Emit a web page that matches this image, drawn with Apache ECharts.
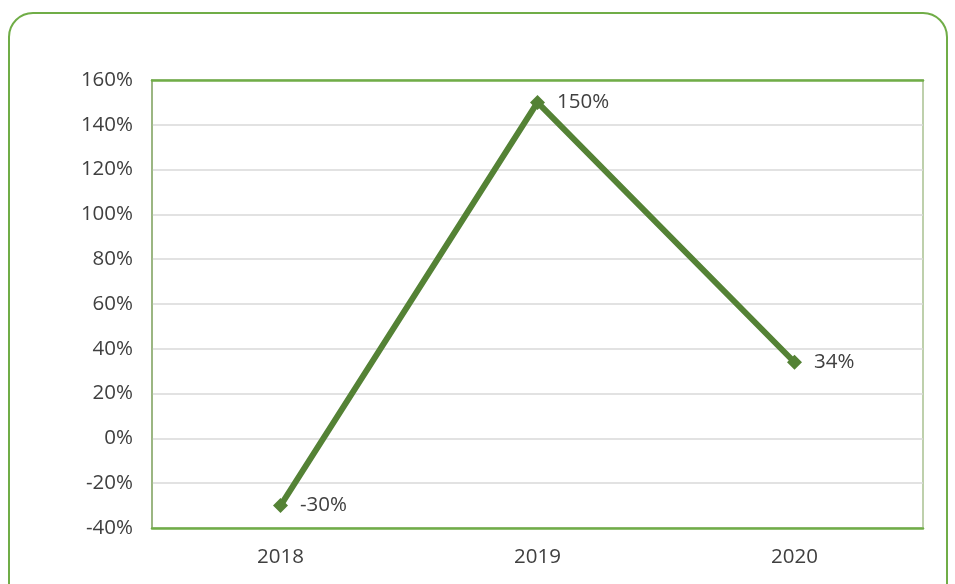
<!DOCTYPE html>
<html>
<head>
<meta charset="utf-8">
<script src="https://cdn.jsdelivr.net/npm/echarts@6/dist/echarts.min.js"></script>
<style>
html,body{margin:0;padding:0;background:#fff;}
#c{width:955px;height:584px;}
</style>
</head>
<body>
<div id="c"></div>
<script>
var categories = ['2018', '2019', '2020'];
var values = [-30, 150, 34];
var yMin = -40, yMax = 160, yStep = 20;

var fontFamily = '"Open Sans", sans-serif';
var textColor = '#404040';
var chart = echarts.init(document.getElementById('c'), null, {renderer: 'canvas'});
chart.setOption({
  backgroundColor: '#ffffff',
  animation: false,
  graphic: [{
    type: 'rect',
    shape: {x: 9, y: 13, width: 938, height: 600, r: 24},
    style: {fill: 'none', stroke: '#70ad47', lineWidth: 2},
    z: 0
  }],
  grid: {
    left: 152, right: 32, top: 80, bottom: 56,
    show: true, borderColor: '#a9c191', borderWidth: 1.5, backgroundColor: 'transparent'
  },
  xAxis: [{
    type: 'category',
    data: categories,
    boundaryGap: true,
    position: 'bottom',
    axisLine: {show: true, onZero: false, lineStyle: {color: '#70ad47', width: 2.5}},
    axisTick: {show: false},
    axisLabel: {color: textColor, fontFamily: fontFamily, fontSize: 20.5, margin: 19}
  }, {
    type: 'category',
    data: categories,
    position: 'top',
    axisLine: {show: true, onZero: false, lineStyle: {color: '#70ad47', width: 2.5}},
    axisTick: {show: false},
    axisLabel: {show: false}
  }],
  yAxis: {
    type: 'value',
    min: yMin, max: yMax, interval: yStep,
    axisLine: {show: true, lineStyle: {color: '#8fae74', width: 1.5}},
    axisTick: {show: false},
    splitLine: {show: true, lineStyle: {color: '#d9d9d9', width: 1.5}},
    axisLabel: {
      color: textColor, fontFamily: fontFamily, fontSize: 20.5, margin: 19,
      formatter: function (v) { return v + '%'; }
    }
  },
  series: [{
    type: 'line',
    data: values,
    xAxisIndex: 0,
    symbol: 'diamond',
    symbolSize: 15,
    lineStyle: {color: '#548235', width: 6},
    itemStyle: {color: '#548235'},
    label: {
      show: true, position: 'right', distance: 12,
      color: textColor, fontFamily: fontFamily, fontSize: 20.5,
      formatter: function (p) { return p.value + '%'; }
    },
    z: 5
  }]
});
</script>
</body>
</html>
